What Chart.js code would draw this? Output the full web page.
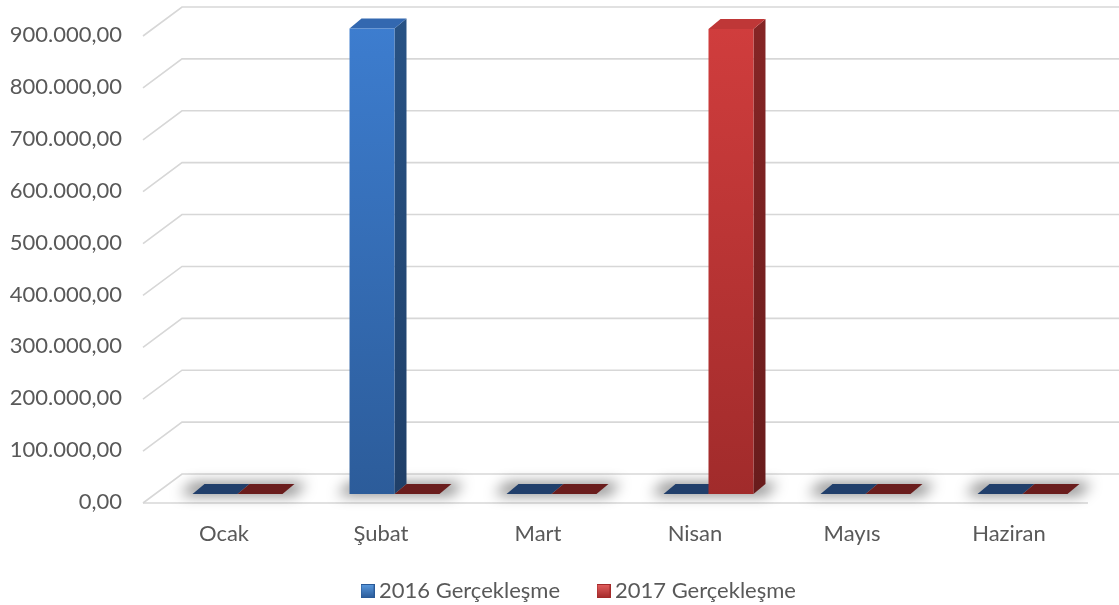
<!DOCTYPE html>
<html>
<head>
<meta charset="utf-8">
<script src="https://cdn.jsdelivr.net/npm/chart.js@4.4.1/dist/chart.umd.min.js"></script>
<style>
  html, body { margin: 0; padding: 0; background: #ffffff; }
  #c { display: block; }
</style>
</head>
<body>
<canvas id="c" width="1119" height="605"></canvas>
<script>
// Monthly realisation values
const categories = ['Ocak', 'Şubat', 'Mart', 'Nisan', 'Mayıs', 'Haziran'];
const series2016 = [0, 897000, 0, 0, 0, 0];
const series2017 = [0, 0, 0, 896000, 0, 0];
const seriesNames = ['2016 Gerçekleşme', '2017 Gerçekleşme'];
const yMin = 0;
const yMax = 900000;
const yStep = 100000;

// Colours for the faces of each series
const palettes = [
  { frontTop: '#3d7dcf', frontBottom: '#2c5c9a', sideTop: '#285284', sideBottom: '#1f3f68', top: '#3368b0', flatTop: '#213f6b', marker: ['#5b9be0', '#2a5a98'] },
  { frontTop: '#d03d3d', frontBottom: '#a12b2b', sideTop: '#852525', sideBottom: '#691c1c', top: '#bf3737', flatTop: '#6a1d1d', marker: ['#e46060', '#a32a2a'] }
];

// Depth of the 3D box and of the floor/walls
const BAR_DEPTH = { dx: 12, dy: 10 };
const FRONT = { dxLeft: -16, dxRight: -13, dy: 9 };
const BACK = { dx: 23, dy: -20 };
const GRID_COLOR = '#d7d7d7';
const TEXT_COLOR = '#595959';
const FONT = 'Lato, "Open Sans", sans-serif';

function formatTR(v) {
  const s = Math.round(v).toString().replace(/\B(?=(\d{3})+(?!\d))/g, '.');
  return s + ',00';
}

function makeMarker(colors) {
  const c = document.createElement('canvas');
  c.width = 14; c.height = 14;
  const g = c.getContext('2d');
  const grad = g.createLinearGradient(0, 0, 0, 14);
  grad.addColorStop(0, colors[0]);
  grad.addColorStop(1, colors[1]);
  g.fillStyle = grad;
  g.fillRect(0, 0, 14, 14);
  g.strokeStyle = colors[1];
  g.lineWidth = 1;
  g.strokeRect(0.5, 0.5, 13, 13);
  return c;
}
const markers = palettes.map(p => makeMarker(p.marker));

function frontGradient(ctx, chart, pal) {
  const area = chart.chartArea;
  if (!area) return pal.frontTop;
  const g = ctx.createLinearGradient(0, area.top, 0, area.bottom);
  g.addColorStop(0, pal.frontTop);
  g.addColorStop(1, pal.frontBottom);
  return g;
}

function poly(ctx, pts) {
  ctx.beginPath();
  ctx.moveTo(pts[0][0], pts[0][1]);
  for (let i = 1; i < pts.length; i++) ctx.lineTo(pts[i][0], pts[i][1]);
  ctx.closePath();
}

// Walls, floor, shadows and the side/top faces of the boxes
const box3d = {
  id: 'box3d',
  afterLayout(chart) {
    // centre the legend under the plot floor
    const lg = chart.legend;
    if (lg) { lg.left += 31; lg.right += 31; }
    // let the month labels hang below the axis box
    const xs = chart.scales.x;
    if (xs) xs.bottom = chart.height;
  },
  beforeDatasetsDraw(chart) {
    const ctx = chart.ctx;
    const area = chart.chartArea;
    const yScale = chart.scales.y;
    const W = chart.width;

    // grid: back wall lines plus the slanted side-wall lines
    ctx.save();
    ctx.strokeStyle = GRID_COLOR;
    ctx.lineWidth = 1.6;
    yScale.ticks.forEach(t => {
      const yb = yScale.getPixelForValue(t.value);
      ctx.beginPath();
      ctx.moveTo(area.left + FRONT.dxLeft, yb + FRONT.dy);
      ctx.lineTo(area.left + BACK.dx, yb + BACK.dy);
      ctx.lineTo(W, yb + BACK.dy);
      ctx.stroke();
    });
    // front edge of the floor
    const y0 = yScale.getPixelForValue(0);
    ctx.beginPath();
    ctx.moveTo(area.left + FRONT.dxLeft, y0 + FRONT.dy);
    ctx.lineTo(area.right + FRONT.dxRight, y0 + FRONT.dy);
    ctx.stroke();
    ctx.restore();

    // soft shadows on the floor under each pair of boxes
    const m0 = chart.getDatasetMeta(0);
    const m1 = chart.getDatasetMeta(1);
    ctx.save();
    ctx.filter = 'blur(7px)';
    ctx.fillStyle = 'rgba(0,0,0,0.5)';
    for (let i = 0; i < categories.length; i++) {
      const a = m0.data[i], b = m1.data[i];
      if (!a || !b) continue;
      const l = a.x - a.width / 2 - 12;
      const r = b.x + b.width / 2 + 12;
      const base = a.base;
      poly(ctx, [[l, base + 1], [l + BAR_DEPTH.dx, base - BAR_DEPTH.dy - 1], [r + BAR_DEPTH.dx, base - BAR_DEPTH.dy - 1], [r, base + 1]]);
      ctx.fill();
    }
    ctx.restore();

    // side and top faces, painted before the front faces
    ctx.save();
    [m0, m1].forEach((meta, di) => {
      const pal = palettes[di];
      meta.data.forEach((bar) => {
        const { x, y, base, width } = bar.getProps(['x', 'y', 'base', 'width'], true);
        const l = x - width / 2, r = x + width / 2;
        const dx = BAR_DEPTH.dx, dy = BAR_DEPTH.dy;
        const flat = Math.abs(base - y) < 0.5;
        if (!flat) {
          const sg = ctx.createLinearGradient(0, y, 0, base);
          sg.addColorStop(0, pal.sideTop);
          sg.addColorStop(1, pal.sideBottom);
          ctx.fillStyle = sg;
          poly(ctx, [[r, y], [r + dx, y - dy], [r + dx, base - dy], [r, base]]);
          ctx.fill();
        }
        ctx.fillStyle = flat ? pal.flatTop : pal.top;
        poly(ctx, [[l, y], [l + dx, y - dy], [r + dx, y - dy], [r, y]]);
        ctx.fill();
      });
    });
    ctx.restore();
  }
};

const ctx = document.getElementById('c').getContext('2d');

new Chart(ctx, {
  type: 'bar',
  data: {
    labels: categories,
    datasets: [
      {
        label: seriesNames[0],
        data: series2016,
        backgroundColor: c => frontGradient(c.chart.ctx, c.chart, palettes[0]),
        borderWidth: 0
      },
      {
        label: seriesNames[1],
        data: series2017,
        backgroundColor: c => frontGradient(c.chart.ctx, c.chart, palettes[1]),
        borderWidth: 0
      }
    ]
  },
  options: {
    responsive: false,
    devicePixelRatio: 1,
    animation: false,
    layout: { padding: { top: 27, right: 18, bottom: -7, left: 0 } },
    datasets: {
      bar: { barPercentage: 1.0, categoryPercentage: 0.573 }
    },
    scales: {
      x: {
        grid: { display: false, drawTicks: false },
        border: { display: false },
        ticks: {
          color: TEXT_COLOR,
          font: { family: FONT, size: 22 },
          padding: 27,
          labelOffset: -13.5,
          maxRotation: 0
        },
        afterFit(scale) { scale.height = 43; }
      },
      y: {
        min: yMin,
        max: yMax,
        grid: { display: false, drawTicks: false },
        border: { display: false },
        ticks: {
          stepSize: yStep,
          color: TEXT_COLOR,
          font: { family: FONT, size: 22 },
          padding: 37,
          labelOffset: 8,
          callback: v => formatTR(v)
        },
        afterFit(scale) {
          scale.width = 159;
          scale.paddingTop = 10;
          scale.paddingBottom = 10;
        }
      }
    },
    plugins: {
      legend: {
        position: 'bottom',
        labels: {
          color: TEXT_COLOR,
          font: { family: FONT, size: 22 },
          usePointStyle: true,
          boxWidth: 1,
          padding: 43,
          generateLabels: chart => chart.data.datasets.map((ds, i) => ({
            text: ds.label,
            fillStyle: palettes[i].frontTop,
            strokeStyle: palettes[i].frontTop,
            lineWidth: 0,
            pointStyle: markers[i],
            hidden: false,
            datasetIndex: i,
            fontColor: TEXT_COLOR
          }))
        }
      },
      tooltip: { enabled: false }
    }
  },
  plugins: [box3d]
});
</script>
</body>
</html>
